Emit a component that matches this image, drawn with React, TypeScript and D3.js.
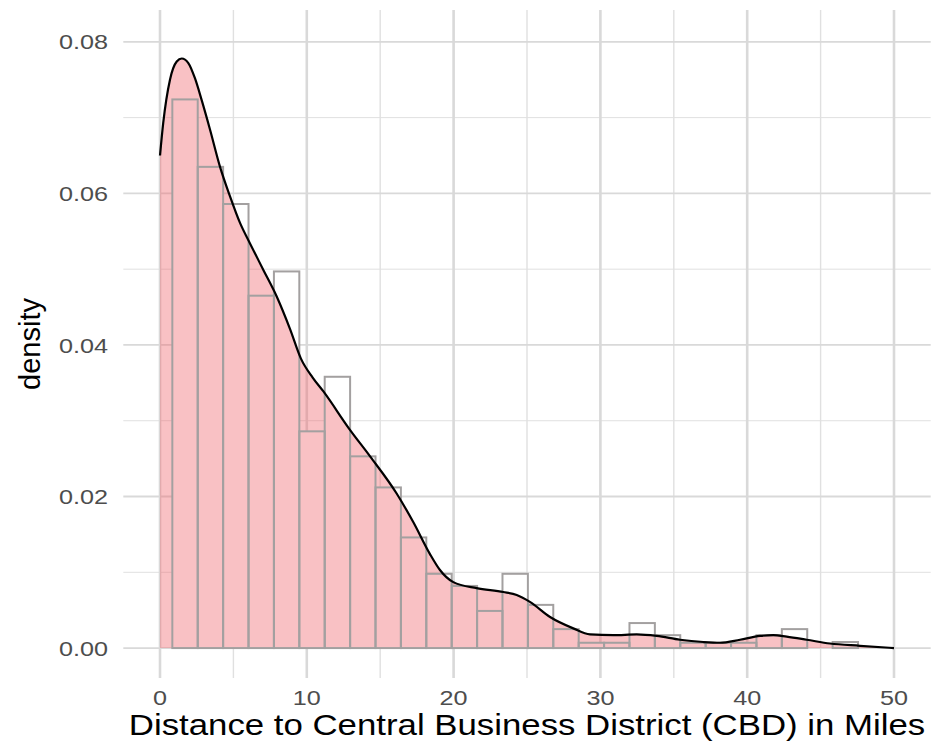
import { useEffect, useRef } from "react";
import * as d3 from "d3";

// histogram bins (left edge of first bin + bin width, in miles) and density heights
const binStart = 0.84;
const binWidth = 1.73;
const binDensity = [
  0.0724, 0.0635, 0.0586, 0.0465, 0.0497, 0.0286, 0.0358, 0.0253, 0.0212,
  0.0146, 0.0098, 0.0082, 0.0049, 0.0098, 0.0057, 0.0025, 0.0007, 0.0007,
  0.0033, 0.0017, 0.0007, 0.0007, 0.0007, 0.0017, 0.0025, 0.0, 0.0008,
];

// kernel density estimate
const kdeX = [
  0, 0.22, 0.68, 1.14, 1.48, 1.93, 2.38, 2.84, 3.41, 4.09, 4.77, 5.45, 6.13,
  7.04, 7.95, 8.86, 9.6, 10.4, 11.12, 12.94, 14.31, 16.12, 17.26, 18.39, 19.07,
  19.98, 21.57, 23.39, 24.3, 25.2, 26.57, 28.15, 29.29, 30.88, 32.47, 33.84,
  35.42, 37.01, 38.15, 39.51, 40.87, 41.78, 42.69, 44.05, 45.64, 47.68, 50,
];
const kdeY = [
  0.065, 0.0693, 0.075, 0.0774, 0.0778, 0.0772, 0.0752, 0.0723, 0.0684,
  0.0635, 0.0596, 0.0561, 0.0534, 0.0499, 0.0464, 0.0421, 0.0382, 0.0357,
  0.0339, 0.0288, 0.0253, 0.0204, 0.0166, 0.0124, 0.0103, 0.0087, 0.0079,
  0.0074, 0.007, 0.0061, 0.0041, 0.0026, 0.0018, 0.0017, 0.0018, 0.0016,
  0.0011, 0.0008, 0.0007, 0.0011, 0.0016, 0.0017, 0.0015, 0.0011, 0.0006,
  0.0003, 0,
];

const xMajor = [0, 10, 20, 30, 40, 50];
const xMinor = [5, 15, 25, 35, 45];
const yMajor = [0, 0.02, 0.04, 0.06, 0.08];
const yMinor = [0.01, 0.03, 0.05, 0.07];

const W = 934;
const H = 747;
const FONT = "'Liberation Sans', Arial, Helvetica, sans-serif";

export default function App() {
  const svgRef = useRef<SVGSVGElement | null>(null);

  useEffect(() => {
    document.body.style.margin = "0";
    if (!svgRef.current) return;
    const svg = d3.select(svgRef.current);
    svg.selectAll("*").remove();

    // panel: x -2.5..52.5, y -0.0039..0.0842
    const x = d3.scaleLinear().domain([-2.5, 52.5]).range([123.3, 930.7]);
    const y = d3.scaleLinear().domain([-0.00395, 0.0842]).range([678, 10]);
    const [px0, px1] = x.range();
    const [py0, py1] = y.range();

    const grid = svg.append("g");
    grid.selectAll(".ymin").data(yMinor).join("line")
      .attr("x1", px0).attr("x2", px1)
      .attr("y1", (d) => y(d)).attr("y2", (d) => y(d))
      .attr("stroke", "#e0e0e0").attr("stroke-width", 1);
    grid.selectAll(".xmin").data(xMinor).join("line")
      .attr("x1", (d) => x(d)).attr("x2", (d) => x(d))
      .attr("y1", py0).attr("y2", py1)
      .attr("stroke", "#e0e0e0").attr("stroke-width", 1.4);
    grid.selectAll(".ymaj").data(yMajor).join("line")
      .attr("x1", px0).attr("x2", px1)
      .attr("y1", (d) => y(d)).attr("y2", (d) => y(d))
      .attr("stroke", "#d9d9d9").attr("stroke-width", 1.8);
    grid.selectAll(".xmaj").data(xMajor).join("line")
      .attr("x1", (d) => x(d)).attr("x2", (d) => x(d))
      .attr("y1", py0).attr("y2", py1)
      .attr("stroke", "#d9d9d9").attr("stroke-width", 2.6);

    const bins = binDensity.map((v, i) => ({
      x0: binStart + i * binWidth,
      x1: binStart + (i + 1) * binWidth,
      v,
    }));

    // white-filled bars hide the grid
    svg.append("g").selectAll("rect").data(bins).join("rect")
      .attr("x", (d) => x(d.x0))
      .attr("width", (d) => x(d.x1) - x(d.x0))
      .attr("y", (d) => y(d.v))
      .attr("height", (d) => y(0) - y(d.v))
      .attr("fill", "#ffffff");

    const pts = kdeX.map((d, i) => [d, kdeY[i]] as [number, number]);
    const area = d3.area<[number, number]>()
      .x((d) => x(d[0])).y0(y(0)).y1((d) => y(d[1]))
      .curve(d3.curveMonotoneX);
    svg.append("path").datum(pts)
      .attr("d", area)
      .attr("fill", "rgb(240,100,107)")
      .attr("fill-opacity", 0.4);

    // outlines on top
    svg.append("g").selectAll("rect").data(bins).join("rect")
      .attr("x", (d) => x(d.x0))
      .attr("width", (d) => x(d.x1) - x(d.x0))
      .attr("y", (d) => y(d.v))
      .attr("height", (d) => y(0) - y(d.v))
      .attr("fill", "none")
      .attr("stroke", "#a3a0a0")
      .attr("stroke-width", 2);

    const line = d3.line<[number, number]>()
      .x((d) => x(d[0])).y((d) => y(d[1]))
      .curve(d3.curveMonotoneX);
    svg.append("path").datum(pts)
      .attr("d", line)
      .attr("fill", "none")
      .attr("stroke", "#000")
      .attr("stroke-width", 2.2);

    // tick labels
    svg.append("g").selectAll("text").data(yMajor).join("text")
      .attr("transform", (d) => `translate(108,${y(d)}) scale(1.2,1)`)
      .attr("dy", "0.36em")
      .attr("text-anchor", "end")
      .attr("font-family", FONT)
      .attr("font-size", 21)
      .attr("fill", "#4d4d4d")
      .text((d) => d.toFixed(2));
    svg.append("g").selectAll("text").data(xMajor).join("text")
      .attr("transform", (d) => `translate(${x(d)},697) scale(1.2,1)`)
      .attr("dy", "0.36em")
      .attr("text-anchor", "middle")
      .attr("font-family", FONT)
      .attr("font-size", 21)
      .attr("fill", "#4d4d4d")
      .text((d) => String(d));

    // axis titles
    svg.append("text")
      .attr("transform", `translate(${(px0 + px1) / 2},735) scale(1.2,1)`)
      .attr("text-anchor", "middle")
      .attr("font-family", FONT)
      .attr("font-size", 29)
      .attr("fill", "#000")
      .text("Distance to Central Business District (CBD) in Miles");
    svg.append("text")
      .attr("transform", `translate(40,${(py0 + py1) / 2}) rotate(-90)`)
      .attr("text-anchor", "middle")
      .attr("font-family", FONT)
      .attr("font-size", 29)
      .attr("fill", "#000")
      .text("density");
  }, []);

  return (
    <div style={{ position: "absolute", left: 0, top: 0 }}>
      <svg ref={svgRef} width={W} height={H} style={{ display: "block", background: "#fff" }} />
    </div>
  );
}
